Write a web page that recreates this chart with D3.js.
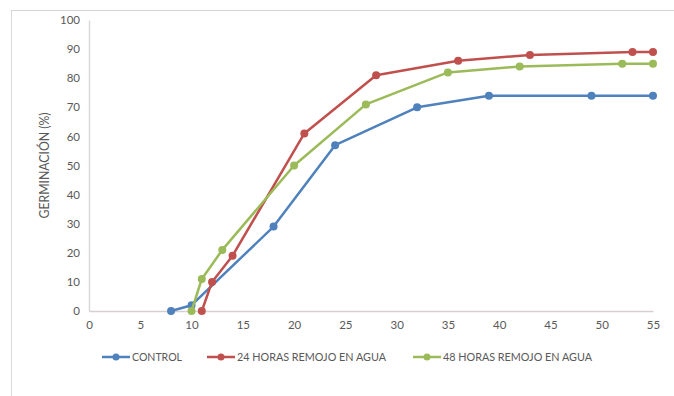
<!DOCTYPE html>
<html>
<head>
<meta charset="utf-8">
<script src="https://cdn.jsdelivr.net/npm/d3@7/dist/d3.min.js"></script>
<style>
  html, body { margin: 0; padding: 0; background: #fff; }
  svg { display: block; font-family: Lato, "Open Sans", sans-serif; }
</style>
</head>
<body>
<svg id="chart" width="674" height="396"></svg>
<script>
const xTicks = [0, 5, 10, 15, 20, 25, 30, 35, 40, 45, 50, 55];
const yTicks = [0, 10, 20, 30, 40, 50, 60, 70, 80, 90, 100];

const controlX = [8, 10, 18, 24, 32, 39, 49, 55];
const controlY = [0, 2, 29, 57, 70, 74, 74, 74];

const h24X = [11, 12, 14, 21, 28, 36, 43, 53, 55];
const h24Y = [0, 10, 19, 61, 81, 86, 88, 89, 89];

const h48X = [10, 11, 13, 20, 27, 35, 42, 52, 55];
const h48Y = [0, 11, 21, 50, 71, 82, 84, 85, 85];

const seriesNames = ["CONTROL", "24 HORAS REMOJO EN AGUA", "48 HORAS REMOJO EN AGUA"];
const seriesColors = ["#4F81BD", "#C0504D", "#9BBB59"];
const yLabel = "GERMINACIÓN (%)";

const series = [
  { name: seriesNames[0], color: seriesColors[0], pts: controlX.map((x, i) => [x, controlY[i]]) },
  { name: seriesNames[1], color: seriesColors[1], pts: h24X.map((x, i) => [x, h24Y[i]]) },
  { name: seriesNames[2], color: seriesColors[2], pts: h48X.map((x, i) => [x, h48Y[i]]) }
];

const svg = d3.select("#chart");

// outer frame (top & left edges visible)
svg.append("line").attr("x1", 10.5).attr("x2", 674).attr("y1", 10.5).attr("y2", 10.5)
  .attr("stroke", "#d9d3d3").attr("stroke-width", 1);
svg.append("line").attr("x1", 11.5).attr("x2", 11.5).attr("y1", 10.5).attr("y2", 396)
  .attr("stroke", "#d9d9d9").attr("stroke-width", 1);

const x = d3.scaleLinear().domain([0, 55]).range([89, 653]);
const y = d3.scaleLinear().domain([0, 100]).range([311, 20]);

// y axis
const yAxis = svg.append("g").attr("transform", "translate(89,0)")
  .call(d3.axisLeft(y).tickValues(yTicks).tickSize(0).tickPadding(9));
yAxis.select(".domain").attr("stroke", "#d9d9d9").attr("stroke-width", 1.5);
yAxis.selectAll("text").attr("fill", "#595959").attr("font-size", 11.5)
  .attr("font-family", "Lato, 'Open Sans', sans-serif");

// x axis
const xAxis = svg.append("g").attr("transform", "translate(0,311)")
  .call(d3.axisBottom(x).tickValues(xTicks).tickSize(0).tickPadding(10));
xAxis.select(".domain").attr("stroke", "#d8d0d0").attr("stroke-width", 1.5);
xAxis.selectAll("text").attr("fill", "#595959").attr("font-size", 11.5)
  .attr("font-family", "Lato, 'Open Sans', sans-serif");

// y label
svg.append("text")
  .attr("transform", `translate(49,${(y(0) + y(100)) / 2}) rotate(-90)`)
  .attr("text-anchor", "middle")
  .attr("fill", "#595959")
  .attr("font-size", 12.5)
  .attr("textLength", 106)
  .attr("lengthAdjust", "spacingAndGlyphs")
  .text(yLabel);

const line = d3.line().x(d => x(d[0])).y(d => y(d[1]));

series.forEach(s => {
  const g = svg.append("g");
  g.append("path").datum(s.pts)
    .attr("d", line).attr("fill", "none")
    .attr("stroke", s.color).attr("stroke-width", 2.5)
    .attr("stroke-linejoin", "round");
  g.selectAll("circle").data(s.pts).join("circle")
    .attr("cx", d => x(d[0])).attr("cy", d => y(d[1]))
    .attr("r", 4).attr("fill", s.color);
});

// legend
const legendX = [102, 207, 413];
const legendTextW = [50, 149, 149];
const legendY = 357;
series.forEach((s, i) => {
  const g = svg.append("g").attr("transform", `translate(${legendX[i]},${legendY})`);
  g.append("line").attr("x1", 0).attr("x2", 28).attr("y1", 0).attr("y2", 0)
    .attr("stroke", s.color).attr("stroke-width", 2.5);
  g.append("circle").attr("cx", 14).attr("cy", 0).attr("r", 3.5).attr("fill", s.color);
  g.append("text").attr("x", 30).attr("y", 0).attr("dy", "0.35em")
    .attr("fill", "#595959").attr("font-size", 12)
    .attr("textLength", legendTextW[i])
    .attr("lengthAdjust", "spacingAndGlyphs")
    .text(s.name);
});
</script>
</body>
</html>
